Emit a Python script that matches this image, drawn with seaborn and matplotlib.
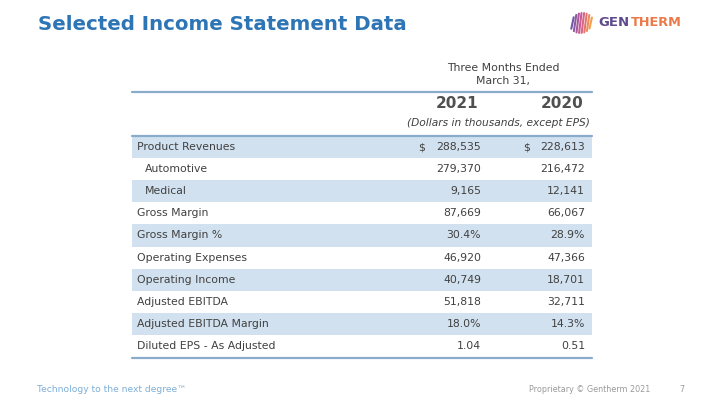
import matplotlib.pyplot as plt
import numpy as np
import seaborn as sns

# table content
row_labels = [
    "Product Revenues", "Automotive", "Medical", "Gross Margin", "Gross Margin %",
    "Operating Expenses", "Operating Income", "Adjusted EBITDA",
    "Adjusted EBITDA Margin", "Diluted EPS - As Adjusted",
]
indented = [False, True, True, False, False, False, False, False, False, False]
values_2021 = ["288,535", "279,370", "9,165", "87,669", "30.4%", "46,920",
               "40,749", "51,818", "18.0%", "1.04"]
values_2020 = ["228,613", "216,472", "12,141", "66,067", "28.9%", "47,366",
               "18,701", "32,711", "14.3%", "0.51"]
dollar_rows = [True, False, False, False, False, False, False, False, False, False]
years = ["2021", "2020"]

BLUE = "#2E75B6"
BAND = "#D2E1EF"
RULE = "#8AACCB"
TEXT = "#404040"
FS = 7.8

sns.set_theme(style="white")
plt.rcParams["font.family"] = ["DejaVu Sans"]

fig = plt.figure(figsize=(7.2, 4.05), dpi=100)
ax = fig.add_axes([0, 0, 1, 1])
ax.set_xlim(0, 720)
ax.set_ylim(405, 0)
ax.axis("off")

# table geometry (pixels)
left, right = 132, 592
top = 136
row_h = 22.1
n = len(row_labels)
col_x = [481, 585]
dollar_x = [418, 523]

# shaded bands on every other row
centers = top + row_h * (np.arange(n) + 0.5)
shade = [i % 2 == 0 for i in range(n)]
for c, s in zip(centers, shade):
    if s:
        ax.barh(c, right - left, left=left, height=row_h, color=BAND, linewidth=0)

# rules
ax.plot([left, right], [92, 92], color=RULE, lw=1.6)
ax.plot([left, right], [top - 0.5, top - 0.5], color=RULE, lw=1.6)
ax.plot([left, right], [top + row_h * n + 0.5] * 2, color=RULE, lw=1.6)

# header
ax.text(503, 68, "Three Months Ended", ha="center", va="center", fontsize=FS, color=TEXT)
ax.text(503, 81, "March 31,", ha="center", va="center", fontsize=FS, color=TEXT)
for x, y in zip([478, 584], years):
    ax.text(x, 104, y, ha="right", va="center", fontsize=11, fontweight="bold", color="#505050")
ax.text(590, 123, "(Dollars in thousands, except EPS)", ha="right", va="center",
        fontsize=7.7, style="italic", color=TEXT)

# rows
for c, lab, ind, v1, v2, d in zip(centers, row_labels, indented, values_2021, values_2020, dollar_rows):
    ax.text(137 + (8 if ind else 0), c, lab, ha="left", va="center", fontsize=FS, color=TEXT)
    ax.text(col_x[0], c, v1, ha="right", va="center", fontsize=FS, color=TEXT)
    ax.text(col_x[1], c, v2, ha="right", va="center", fontsize=FS, color=TEXT)
    if d:
        ax.text(dollar_x[0], c, "$", ha="left", va="center", fontsize=FS, color=TEXT)
        ax.text(dollar_x[1], c, "$", ha="left", va="center", fontsize=FS, color=TEXT)

# title
ax.text(38, 25, "Selected Income Statement Data", ha="left", va="center",
        fontsize=14.2, fontweight="bold", color=BLUE)

# logo
stripe_cols = sns.blend_palette(["#6E5AA8", "#D85A8E", "#F4A04A"], 8)
for k, sc in enumerate(stripe_cols):
    xx = 572.5 + k * 2.6
    half = 10 * np.sqrt(max(0.0, 1 - ((xx - 581.5) / 11.0) ** 2))
    ax.plot([xx - 1.2, xx + 1.2], [23 + half, 23 - half], color=sc, lw=1.5, solid_capstyle="round")
ax.text(598, 23, "GEN", ha="left", va="center", fontsize=9.5, fontweight="bold", color="#5E4A8E")
ax.text(631, 23, "THERM", ha="left", va="center", fontsize=9.3, fontweight="bold", color="#EB7A4A")

# footer
ax.text(37, 390, "Technology to the next degree\u2122", ha="left", va="center",
        fontsize=6.6, color="#7DAED8")
ax.text(529, 390, "Proprietary \u00a9 Gentherm 2021", ha="left", va="center",
        fontsize=5.8, color="#9A9A9A")
ax.text(682, 390, "7", ha="center", va="center", fontsize=5.8, color="#9A9A9A")

fig.savefig("out.png", dpi=100)
plt.close(fig)
